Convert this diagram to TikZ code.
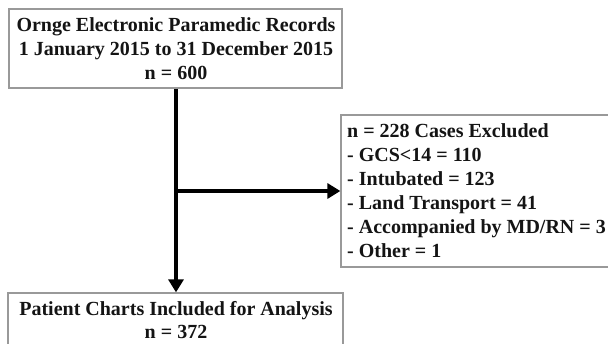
\documentclass[tikz,border=0pt]{standalone}
\usepackage{fontspec}
\setmainfont{Liberation Serif}
\usetikzlibrary{arrows.meta}
\begin{document}
\begin{tikzpicture}[x=1pt,y=-1pt,
  box/.style={draw=black!40, line width=1.3pt, fill=white, inner sep=0pt},
  txt/.style={anchor=base, inner sep=0pt, text=black!92, font=\fontsize{20}{24}\selectfont\bfseries},
  ltxt/.style={txt, anchor=base west},
  flow/.style={line width=4pt, -{Triangle[length=13pt,width=15pt]}}]
\useasboundingbox (0,0) rectangle (608,343);
\clip (0,0) rectangle (608,343);
\fill[white] (0,0) rectangle (608,343);
% boxes
\node[box, minimum width=333pt, minimum height=79pt] (top) at (175.5,48.5) {};
\node[box, minimum width=274pt, minimum height=152pt] (excl) at (478,191) {};
\node[box, minimum width=335pt, minimum height=80pt] (incl) at (175.5,333) {};
% texts
\node[txt] (t1) at (176,31) {Ornge Electronic Paramedic Records};
\node[txt] (t2) at (176,55) {1 January 2015 to 31 December 2015};
\node[txt] (t3) at (176,79) {n = 600};
\node[ltxt] (e1) at (347,137) {n = 228 Cases Excluded};
\node[ltxt] (e2) at (347,161) {- GCS<14 = 110};
\node[ltxt] (e3) at (347,185) {- Intubated = 123};
\node[ltxt] (e4) at (347,209) {- Land Transport = 41};
\node[ltxt] (e5) at (347,233) {- Accompanied by MD/RN = 3};
\node[ltxt] (e6) at (347,257) {- Other = 1};
\node[txt] (b1) at (176,315) {Patient Charts Included for Analysis};
\node[txt] (b2) at (176,338) {n = 372};
% connectors
\coordinate (j) at (176,191);
\draw[flow] (top.south -| j) -- (incl.north -| j);
\draw[flow] ([xshift=-2pt]j) -- (excl.west |- j);
\end{tikzpicture}
\end{document}
